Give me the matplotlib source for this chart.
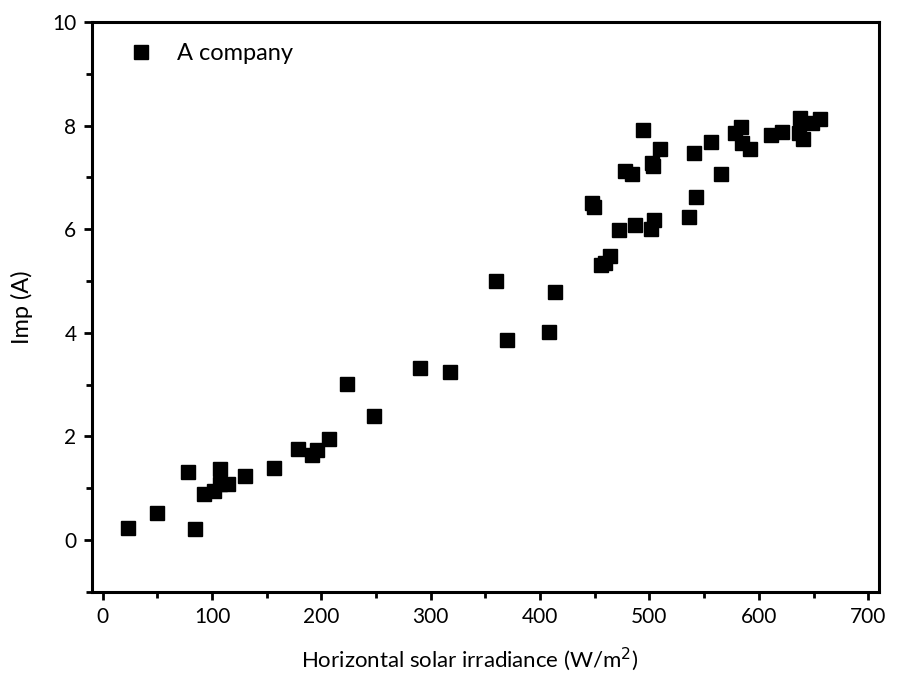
import matplotlib
matplotlib.use("Agg")
import matplotlib.pyplot as plt
from matplotlib.ticker import MultipleLocator

plt.rcParams['font.family'] = ['Lato', 'DejaVu Sans']

# irradiance (W/m2) and Imp (A) for A company
irradiance = [23, 50, 78, 84, 93, 102, 107, 107, 115, 130, 157, 179, 191, 196, 207,
              223, 248, 290, 318, 360, 370, 408, 414,
              447, 449, 456, 459, 464, 472, 478, 484, 487, 494, 501, 502, 503, 504, 510,
              536, 541, 543, 556, 565, 578, 584, 585, 592, 611, 621, 637, 638, 640, 649, 656]
imp = [0.23, 0.52, 1.32, 0.21, 0.89, 0.95, 1.36, 1.08, 1.08, 1.24, 1.38, 1.75, 1.64, 1.74, 1.94,
       3.01, 2.39, 3.31, 3.24, 4.99, 3.86, 4.02, 4.78,
       6.50, 6.42, 5.31, 5.34, 5.48, 5.98, 7.12, 7.07, 6.08, 7.92, 6.00, 7.27, 7.21, 6.18, 7.55,
       6.23, 7.47, 6.62, 7.68, 7.06, 7.86, 7.98, 7.66, 7.54, 7.81, 7.88, 7.85, 8.14, 7.74, 8.04, 8.13]

fig = plt.figure(figsize=(9.11, 6.98), dpi=100)
ax = fig.add_axes([0.1007, 0.1523, 0.8643, 0.8162])

ax.plot(irradiance, imp, 's', color='black', markersize=9.5, label='A company')

ax.set_xlim(-10, 710)
ax.set_ylim(-1, 10)
ax.xaxis.set_major_locator(MultipleLocator(100))
ax.xaxis.set_minor_locator(MultipleLocator(50))
ax.yaxis.set_major_locator(MultipleLocator(2))
ax.yaxis.set_minor_locator(MultipleLocator(1))

for s in ax.spines.values():
    s.set_linewidth(2.2)
ax.tick_params(which='major', direction='out', length=6, width=2, labelsize=15, pad=5)
ax.tick_params(which='minor', direction='out', length=4, width=2)

ax.set_xlabel('Horizontal solar irradiance (W/m$^2$)', fontsize=16)
ax.set_ylabel('Imp (A)', fontsize=17, labelpad=14)
ax.xaxis.set_label_coords(0.48, -0.095)

ax.legend(loc='upper left', frameon=False, fontsize=17, handletextpad=0.3,
          borderaxespad=0.5, handlelength=2.4, markerscale=1.0)

fig.savefig('out.png', dpi=100)
